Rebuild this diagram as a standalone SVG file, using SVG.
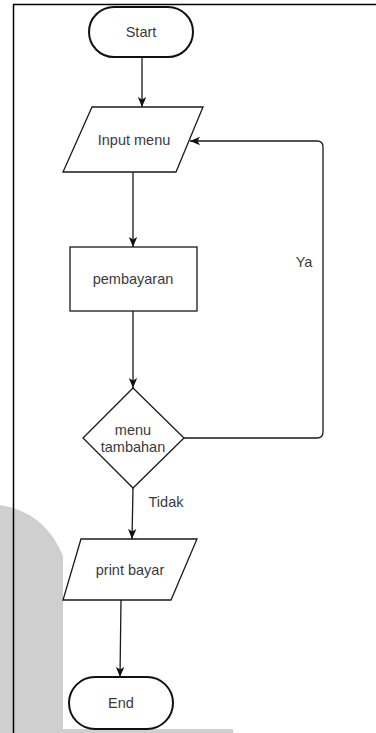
<svg xmlns="http://www.w3.org/2000/svg" width="376" height="733" viewBox="0 0 376 733">
  <style>
    .shape { fill: #ffffff; stroke: #1a1a1a; stroke-width: 1.3; }
    .term { fill: #ffffff; stroke: #111111; stroke-width: 2; }
    .lbl { font-family: "Liberation Sans", Arial, sans-serif; font-size: 14.5px; fill: #3a3a3a; text-anchor: middle; dominant-baseline: central; }
    .edge { fill: none; stroke: #1a1a1a; stroke-width: 1.3; }
    .frame { fill: none; stroke: #000000; stroke-width: 1.5; }
    .shade { fill: #cfcfcf; }
  </style>
  <defs>
    <marker id="arrow" markerUnits="userSpaceOnUse" markerWidth="10" markerHeight="10" viewBox="0 0 10 10" refX="10" refY="5" orient="auto">
      <path d="M0,0.8 L10,5 L0,9.2 L2.5,5 Z" fill="#111111"/>
    </marker>
  </defs>

  <rect width="376" height="733" fill="#ffffff"/>

  <!-- grey backdrop in the lower-left corner -->
  <path class="shade" d="M0,505 Q45,512 63,556 V733 H0 Z"/>
  <rect class="shade" x="63" y="729" width="170" height="4"/>

  <!-- page frame -->
  <path class="frame" d="M13.5,733 V4.5 H376"/>

  <g id="connectors">
    <path class="edge" d="M142,57 V107" marker-end="url(#arrow)"/>
    <path class="edge" d="M133,172 V247" marker-end="url(#arrow)"/>
    <path class="edge" d="M133,311 V388" marker-end="url(#arrow)"/>
    <path class="edge" d="M184,438 H317 Q323,438 323,432 V147 Q323,141 317,141 H190" marker-end="url(#arrow)"/>
    <path class="edge" d="M133,488 L132,539" marker-end="url(#arrow)"/>
    <path class="edge" d="M121,600 L120,677" marker-end="url(#arrow)"/>
    <text class="lbl" x="304" y="262">Ya</text>
    <text class="lbl" x="166" y="502">Tidak</text>
  </g>

  <g id="start">
    <rect class="term" x="89" y="7" width="104" height="50" rx="25" ry="25"/>
    <text class="lbl" x="141" y="32">Start</text>
  </g>

  <g id="input-menu">
    <polygon class="shape" points="92,107 203,107 176,172 63,172"/>
    <text class="lbl" x="134" y="140">Input menu</text>
  </g>

  <g id="pembayaran">
    <rect class="shape" x="70" y="247" width="127" height="64"/>
    <text class="lbl" x="133" y="279">pembayaran</text>
  </g>

  <g id="menu-tambahan">
    <polygon class="shape" points="133,388 184,438 133,488 83,438"/>
    <text class="lbl" x="133" y="430">menu</text>
    <text class="lbl" x="133" y="447">tambahan</text>
  </g>

  <g id="print-bayar">
    <polygon class="shape" points="81,539 197,539 171,600 63,600"/>
    <text class="lbl" x="130" y="570">print bayar</text>
  </g>

  <g id="end">
    <rect class="term" x="69" y="677" width="104" height="52" rx="26" ry="26"/>
    <text class="lbl" x="121" y="703">End</text>
  </g>
</svg>
